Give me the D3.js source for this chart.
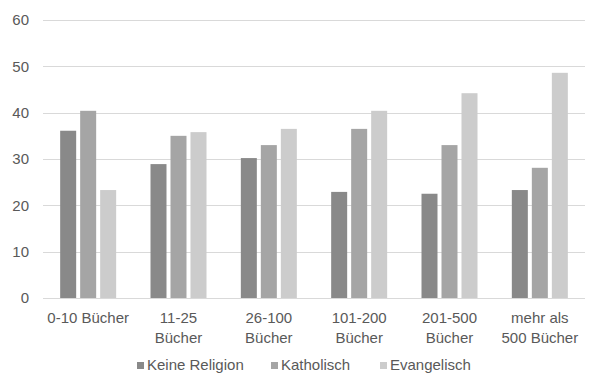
<!DOCTYPE html>
<html>
<head>
<meta charset="utf-8">
<script src="https://cdn.jsdelivr.net/npm/d3@7"></script>
<style>
  body { margin: 0; background: #fff; }
  svg { font-family: "Liberation Sans", Arial, sans-serif; }
</style>
</head>
<body>
<svg id="chart" width="609" height="383"></svg>
<script>
// data
var categories = [["0-10 Bücher"], ["11-25", "Bücher"], ["26-100", "Bücher"], ["101-200", "Bücher"], ["201-500", "Bücher"], ["mehr als", "500 Bücher"]];
var seriesNames = ["Keine Religion", "Katholisch", "Evangelisch"];
var keineReligion = [36.1, 28.9, 30.2, 22.9, 22.5, 23.3];
var katholisch = [40.4, 35.0, 33.0, 36.5, 33.0, 28.1];
var evangelisch = [23.3, 35.8, 36.5, 40.4, 44.2, 48.6];
var yTicks = [0, 10, 20, 30, 40, 50, 60];

var seriesValues = [keineReligion, katholisch, evangelisch];
var colors = ["#898989", "#a5a5a5", "#cccccc"];

var svg = d3.select("#chart");
var margin = {top: 20, right: 24, bottom: 85, left: 43},
  width = 609 - margin.left - margin.right,
  height = 383 - margin.top - margin.bottom;

var g = svg.append("g")
  .attr("transform", "translate(" + margin.left + "," + margin.top + ")");

var x0 = d3.scaleBand().domain(d3.range(categories.length)).range([0, width]);
var x1 = d3.scaleBand().domain(d3.range(seriesNames.length)).range([0, 56]).paddingInner(0.2);
var y = d3.scaleLinear().domain([0, 60]).range([height, 0]);

// gridlines
g.append("g")
  .selectAll("line")
  .data(yTicks)
  .enter().append("line")
  .attr("x1", 0)
  .attr("x2", width)
  .attr("y1", function(d) { return Math.round(y(d)) + 0.5; })
  .attr("y2", function(d) { return Math.round(y(d)) + 0.5; })
  .attr("stroke", "#d9d9d9")
  .attr("stroke-width", 1);

// y axis labels
var yAxis = g.append("g")
  .call(d3.axisLeft(y).tickValues(yTicks).tickSize(0).tickPadding(14));
yAxis.select(".domain").remove();
yAxis.selectAll("text")
  .style("font-size", "15px")
  .style("font-family", "Liberation Sans, Arial, sans-serif")
  .attr("fill", "#595959");

// bars
var groups = g.selectAll(".grp")
  .data(categories)
  .enter().append("g")
  .attr("class", "grp")
  .attr("transform", function(d, i) { return "translate(" + (x0(i) + (x0.bandwidth() - 56) / 2) + ",0)"; });

groups.selectAll("rect")
  .data(function(d, i) { return seriesValues.map(function(s, j) { return {s: j, v: s[i]}; }); })
  .enter().append("rect")
  .attr("x", function(d) { return x1(d.s); })
  .attr("y", function(d) { return y(d.v); })
  .attr("width", x1.bandwidth())
  .attr("height", function(d) { return height - y(d.v); })
  .attr("fill", function(d) { return colors[d.s]; });

// x labels
var xl = g.append("g")
  .selectAll("text")
  .data(categories)
  .enter().append("text")
  .attr("x", function(d, i) { return x0(i) + x0.bandwidth() / 2; })
  .attr("y", height + 25)
  .attr("text-anchor", "middle")
  .attr("fill", "#595959")
  .style("font-size", "15px");
xl.selectAll("tspan")
  .data(function(d) { return d; })
  .enter().append("tspan")
  .attr("x", function() { return this.parentNode.getAttribute("x"); })
  .attr("dy", function(d, i) { return i === 0 ? 0 : 20; })
  .text(function(d) { return d; });

// legend
var legendX = [137, 271, 380];
var legend = svg.append("g")
  .selectAll("g")
  .data(seriesNames)
  .enter().append("g")
  .attr("transform", function(d, i) { return "translate(" + legendX[i] + ",370)"; });
legend.append("rect")
  .attr("x", 0)
  .attr("y", -8)
  .attr("width", 7)
  .attr("height", 7)
  .attr("fill", function(d, i) { return colors[i]; });
legend.append("text")
  .attr("x", 10)
  .attr("y", 0)
  .attr("fill", "#595959")
  .style("font-size", "15px")
  .text(function(d) { return d; });
</script>
</body>
</html>
